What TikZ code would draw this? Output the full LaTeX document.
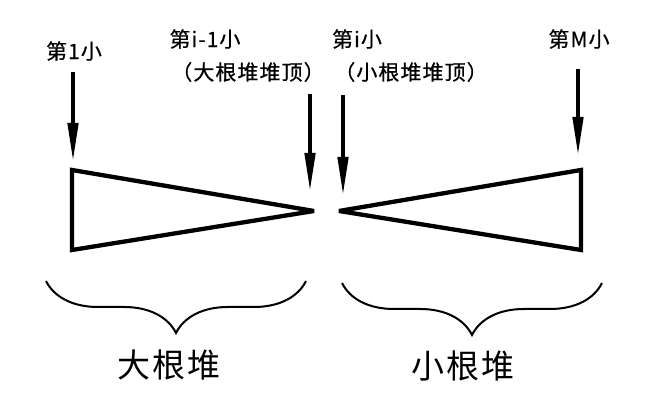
\documentclass[tikz,border=0pt]{standalone}
\usepackage{fontspec}
\newfontfamily\cjk[LetterSpace=5,FakeBold=0.6]{Noto Sans CJK SC}
\newfontfamily\cjkbig[LetterSpace=6]{Noto Sans CJK SC}
\usetikzlibrary{arrows.meta,decorations.pathreplacing}
\begin{document}
\begin{tikzpicture}[x=1pt,y=1pt]

    \tikzset{
      heap/.style={
        line width=4.3pt,
        line join=miter,
        miter limit=3,
      },
      pick/.style={
        line width=4.5pt,
        -{Triangle[length=40pt,width=10pt]},
      },
      lbl/.style={
        anchor=center,
        inner sep=0pt,
        font=\cjk\fontsize{21}{21}\selectfont,
      },
      heaplbl/.style={
        anchor=center,
        inner sep=0pt,
        font=\cjkbig\fontsize{33}{33}\selectfont,
      },
      span/.style={
        line width=2pt,
        decorate,
        decoration={brace,mirror,amplitude=52pt},
      },
    }
    \useasboundingbox (0,0) rectangle (651,403);
	% labels
	\node[lbl] (first) at (74,352) {第1小};
	\node[lbl] (prevk) at (205,364) {第i-1小};
	\node[lbl] (maxtop) at (248,331) {（大根堆堆顶）};
	\node[lbl] (kth) at (357,364) {第i小};
	\node[lbl] (mintop) at (411,331) {（小根堆堆顶）};
	\node[lbl] (last) at (579,364) {第M小};
	% heaps
	\coordinate (maxa) at (72,233);
	\coordinate (maxb) at (72,153);
	\coordinate (maxc) at (314,192);
	\coordinate (mina) at (581,233);
	\coordinate (minb) at (581,153);
	\coordinate (minc) at (339,192);
	\draw[heap] (maxa)--(maxc)--(maxb)--cycle;
	\draw[heap] (mina)--(minc)--(minb)--cycle;
	% arrows
	\coordinate (s1) at (73,331);  \coordinate (e1) at (73,240);
	\coordinate (s2) at (310,309); \coordinate (e2) at (310,210);
	\coordinate (s3) at (343,308); \coordinate (e3) at (343,206);
	\coordinate (s4) at (578,334); \coordinate (e4) at (578,246);
	\draw[pick] (s1)--(e1);
	\draw[pick] (s2)--(e2);
	\draw[pick] (s3)--(e3);
	\draw[pick] (s4)--(e4);
	% braces
	\coordinate (bl1) at (46,122);  \coordinate (bl2) at (306,122);
	\coordinate (br1) at (342,120); \coordinate (br2) at (602,120);
	\draw[span] (bl1)--(bl2);
	\draw[span] (br1)--(br2);
	\node[heaplbl] (maxheap) at (169,38) {大根堆};
	\node[heaplbl] (minheap) at (463,37) {小根堆};

\end{tikzpicture}
\end{document}
